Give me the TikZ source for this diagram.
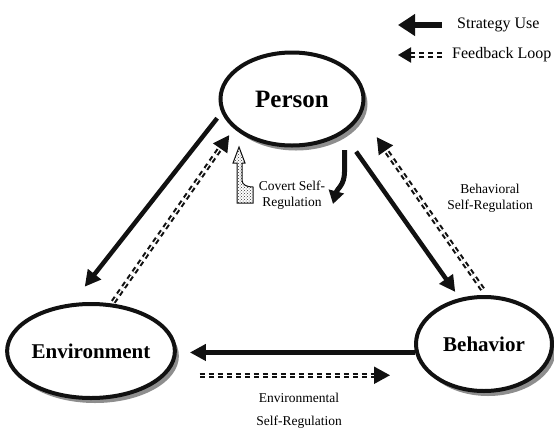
\documentclass[tikz,border=0pt]{standalone}
\usepackage{fontspec}
\setmainfont{Liberation Serif}
\usetikzlibrary{arrows.meta,shapes.geometric,shadows,patterns}
\definecolor{diagramink}{HTML}{111111}
\definecolor{diagramshade}{HTML}{8E8E8E}

\begin{document}
\begin{tikzpicture}[
    x=1pt,y=-1pt,>=Triangle,
    agent/.style={ellipse,draw=diagramink,fill=white,line width=4pt,inner sep=0pt,
      font=\fontsize{21}{24}\selectfont\bfseries,
      drop shadow={shadow xshift=4pt,shadow yshift=-5pt,fill=diagramshade,opacity=1}},
    strategy/.style={-{Triangle[length=16pt,width=16pt]},draw=diagramink,line width=4.5pt},
    feedback/.style={-{Triangle[length=16pt,width=17pt]},draw=diagramink,line width=2.1pt,
      double=white,double distance=1.2pt,dash pattern=on 5pt off 4pt},
    note/.style={align=center,font=\fontsize{13.5}{16}\selectfont},
    key/.style={anchor=west,inner sep=0pt,font=\fontsize{16}{19}\selectfont}
  ]
  \useasboundingbox (0,0) rectangle (554,429);

  % the three agents
  \node[agent,minimum width=143pt,minimum height=93pt,
    font=\fontsize{25}{28}\selectfont\bfseries] (person) at (292,99) {Person};
  \node[agent,minimum width=148pt,minimum height=94pt] (environment) at (91,351) {Environment};
  \node[agent,minimum width=136pt,minimum height=94pt] (behavior) at (484,344) {Behavior};

  % strategy use
  \draw[strategy,shorten <=7pt,shorten >=21pt] (person.191) -- (environment.112);
  \draw[strategy,shorten <=22pt,shorten >=7.5pt] (person.326) -- (behavior.118);
  \draw[strategy,shorten <=0pt,shorten >=13pt] (behavior.187) -- (behavior.187 -| environment.east);

  % feedback loops
  \draw[feedback,shorten <=2pt,shorten >=8pt] (environment.66) -- (person.207);
  \draw[feedback,shorten <=7pt,shorten >=27pt] (behavior.87) -- (person.347);
  \draw[feedback,shorten <=34pt,shorten >=24pt] (environment.342) -- (environment.342 -| behavior.west);

  % covert self-regulation
  \draw[diagramink,line width=1pt,pattern=crosshatch dots,pattern color=diagramink!85]
    (239,147) -- (245,163) -- (242,163) -- (242,180)
    .. controls (242,185) and (247,187) .. (253,187) -- (253,203)
    -- (237,203) -- (237,163) -- (233,163) -- cycle;
  \draw[diagramink,line width=5pt,-{Triangle[length=13pt,width=15pt]}]
    (344.5,150) -- (344.5,172) .. controls (344.5,185) and (337,189) .. (333,204);

  \node[note] (covert) at (292,195) {Covert Self-\\Regulation};
  \node[note] (behavioral) at (490,198.5) {Behavioral\\Self-Regulation};
  \node[note] (environmental) at (299,410.5) {Environmental\\[7pt]Self-Regulation};

  % legend
  \node[key] (usekey) at (457,25) {Strategy Use};
  \node[key] (loopkey) at (452,55) {Feedback Loop};
  \coordinate (usetail) at (442,25);
  \coordinate (usetip) at (398,25);
  \coordinate (looptail) at (442,55);
  \coordinate (looptip) at (398,55);
  \draw[strategy,line width=6.5pt,-{Triangle[length=17pt,width=21pt]}] (usetail) -- (usetip);
  \draw[feedback,-{Triangle[length=13pt,width=15pt]}] (looptail) -- (looptip);
\end{tikzpicture}
\end{document}
